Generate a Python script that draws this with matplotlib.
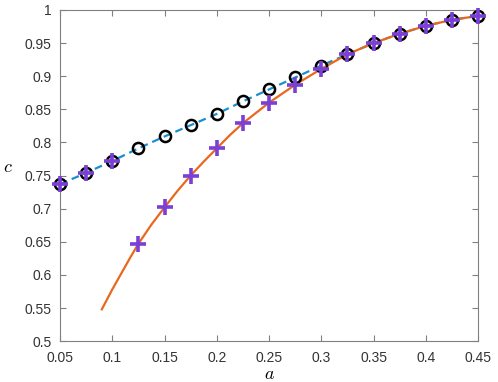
import matplotlib
matplotlib.use("Agg")
import matplotlib.pyplot as plt

plt.rcParams['font.family'] = ['Liberation Sans', 'DejaVu Sans']
plt.rcParams['mathtext.fontset'] = 'cm'

# sample points
a_pts = [0.05, 0.075, 0.1, 0.125, 0.15, 0.175, 0.2, 0.225, 0.25,
         0.275, 0.3, 0.325, 0.35, 0.375, 0.4, 0.425, 0.45]
c_circ = [0.737, 0.754, 0.772, 0.791, 0.809, 0.826, 0.843, 0.862, 0.880,
          0.898, 0.916, 0.933, 0.950, 0.964, 0.976, 0.985, 0.991]
c_plus = [0.737, 0.754, 0.772, 0.647, 0.702, 0.750, 0.791, 0.829, 0.860,
          0.887, 0.911, 0.933, 0.950, 0.964, 0.976, 0.985, 0.991]

# solid curve
a_curve = [0.09, 0.095, 0.1, 0.105, 0.11, 0.1175, 0.125, 0.1375, 0.15, 0.1625,
           0.175, 0.1875, 0.2, 0.2125, 0.225, 0.25, 0.275, 0.3, 0.325, 0.35,
           0.375, 0.4, 0.425, 0.45]
c_curve = [0.548, 0.563, 0.578, 0.592, 0.606, 0.627, 0.647, 0.676, 0.702, 0.727,
           0.750, 0.771, 0.791, 0.811, 0.829, 0.860, 0.887, 0.911, 0.933, 0.950,
           0.964, 0.976, 0.985, 0.991]

fig = plt.figure(figsize=(4.98, 3.82), dpi=100)
ax = fig.add_axes([0.1205, 0.107, 0.8395, 0.867])

ax.plot(a_pts, c_circ, '--', color='#1a8fd0', lw=1.6, dashes=(3.5, 2.2), zorder=2)
ax.plot(a_curve, c_curve, '-', color='#e8691e', lw=1.6, zorder=3)
ax.plot(a_pts, c_circ, 'o', mfc='none', mec='black', ms=8, mew=1.8, zorder=4,
        clip_on=False)
ax.plot(a_pts, c_plus, '+', color='#7a3fd6', ms=11, mew=2.6, zorder=5,
        clip_on=False)

ax.set_xlim(0.05, 0.45)
ax.set_ylim(0.5, 1.0)
ax.set_xticks([0.05, 0.1, 0.15, 0.2, 0.25, 0.3, 0.35, 0.4, 0.45])
ax.set_xticklabels(['0.05', '0.1', '0.15', '0.2', '0.25', '0.3', '0.35', '0.4', '0.45'])
ax.set_yticks([0.5, 0.55, 0.6, 0.65, 0.7, 0.75, 0.8, 0.85, 0.9, 0.95, 1.0])
ax.set_yticklabels(['0.5', '0.55', '0.6', '0.65', '0.7', '0.75', '0.8', '0.85', '0.9', '0.95', '1'])

for s in ax.spines.values():
    s.set_color('#808080')
    s.set_linewidth(0.8)
ax.tick_params(direction='in', top=True, right=True, length=4, width=0.8,
               color='#808080', labelsize=10, labelcolor='#333333')
ax.tick_params(axis='x', pad=7)
ax.tick_params(axis='y', pad=6)

ax.set_xlabel('$a$', fontsize=13, labelpad=1)
ax.set_ylabel('$c$', fontsize=13, rotation=0, labelpad=12)

fig.savefig('out.png', dpi=100)
